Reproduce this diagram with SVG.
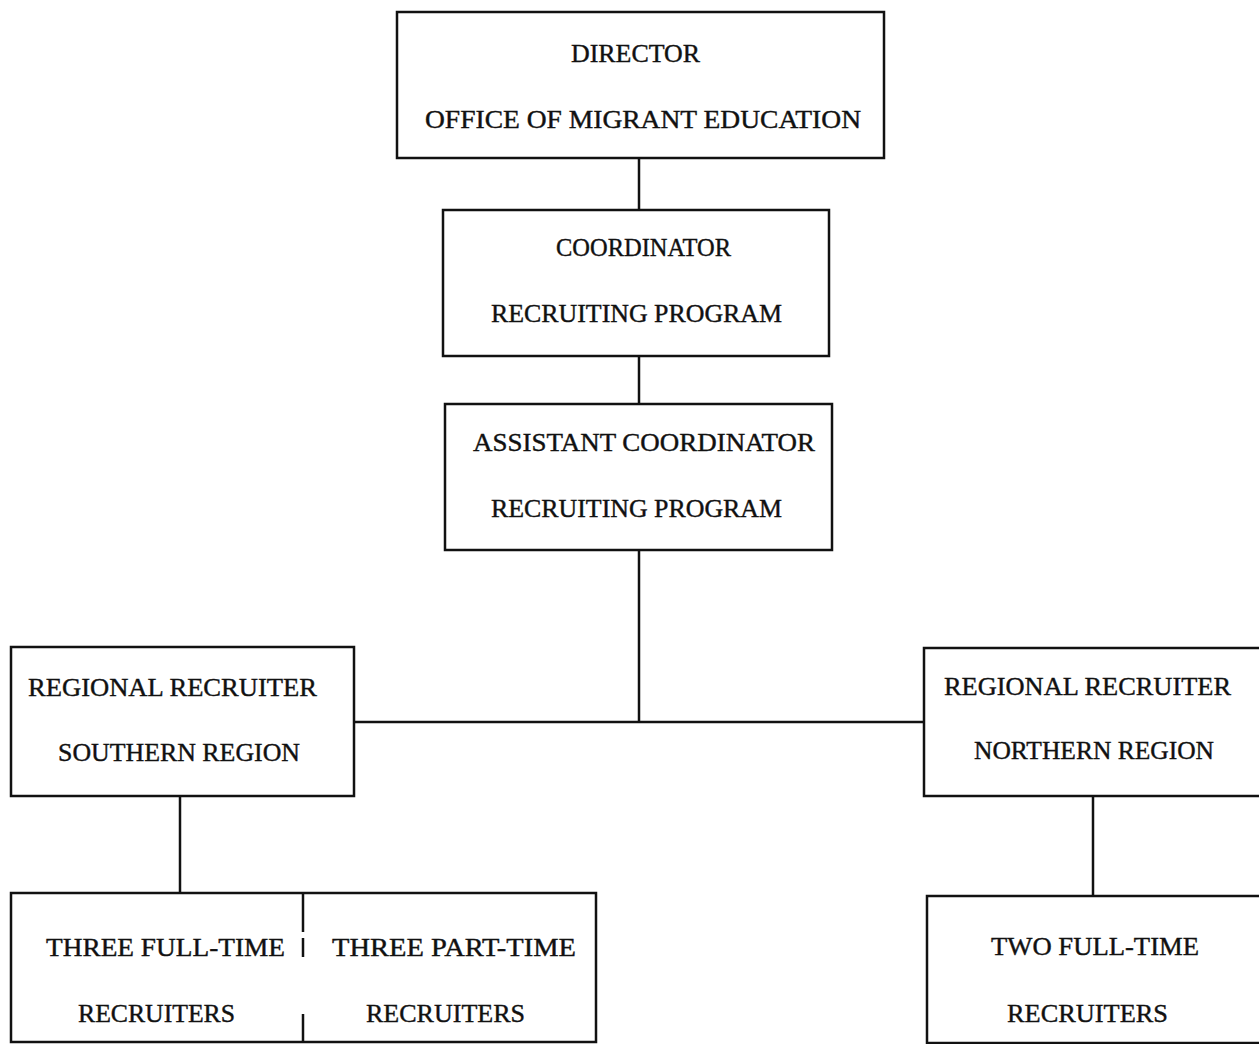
<svg xmlns="http://www.w3.org/2000/svg" width="1259" height="1044" viewBox="0 0 1259 1044">
<style>
.box{fill:#fff;stroke:#111;stroke-width:2.5}
.ln{stroke:#111;stroke-width:2.5;fill:none}
text{font-family:"Liberation Serif","Times New Roman",serif;font-size:26px;fill:#111;stroke:#111;stroke-width:0.4}
</style>
<rect width="1259" height="1044" fill="#fff"/>
<g id="connectors">
<line class="ln" x1="639" y1="158" x2="639" y2="210"/>
<line class="ln" x1="639" y1="356" x2="639" y2="404"/>
<line class="ln" x1="639" y1="550" x2="639" y2="722"/>
<line class="ln" x1="354" y1="722" x2="924" y2="722"/>
<line class="ln" x1="180" y1="796" x2="180" y2="893"/>
<line class="ln" x1="1093" y1="796" x2="1093" y2="896"/>
</g>
<g id="director">
<rect class="box" x="397" y="12" width="487" height="146"/>
<text x="571" y="62" textLength="129" lengthAdjust="spacingAndGlyphs">DIRECTOR</text>
<text x="425" y="128" textLength="436" lengthAdjust="spacingAndGlyphs">OFFICE OF MIGRANT EDUCATION</text>
</g>
<g id="coordinator">
<rect class="box" x="443" y="210" width="386" height="146"/>
<text x="556" y="256" textLength="175" lengthAdjust="spacingAndGlyphs">COORDINATOR</text>
<text x="491" y="322" textLength="291" lengthAdjust="spacingAndGlyphs">RECRUITING PROGRAM</text>
</g>
<g id="assistant">
<rect class="box" x="445" y="404" width="387" height="146"/>
<text x="473" y="451" textLength="342" lengthAdjust="spacingAndGlyphs">ASSISTANT COORDINATOR</text>
<text x="491" y="517" textLength="291" lengthAdjust="spacingAndGlyphs">RECRUITING PROGRAM</text>
</g>
<g id="southern">
<rect class="box" x="11" y="647" width="343" height="149"/>
<text x="28" y="696" textLength="289" lengthAdjust="spacingAndGlyphs">REGIONAL RECRUITER</text>
<text x="58" y="761" textLength="242" lengthAdjust="spacingAndGlyphs">SOUTHERN REGION</text>
</g>
<g id="northern">
<rect class="box" x="924" y="648" width="345" height="148"/>
<text x="944" y="695" textLength="287" lengthAdjust="spacingAndGlyphs">REGIONAL RECRUITER</text>
<text x="974" y="759" textLength="240" lengthAdjust="spacingAndGlyphs">NORTHERN REGION</text>
</g>
<g id="southern-recruiters">
<rect class="box" x="11" y="893" width="585" height="149"/>
<line class="ln" x1="303" y1="893" x2="303" y2="932"/>
<line class="ln" x1="303" y1="938" x2="303" y2="957"/>
<line class="ln" x1="303" y1="1014" x2="303" y2="1042"/>
<text x="46" y="956" textLength="239" lengthAdjust="spacingAndGlyphs">THREE FULL-TIME</text>
<text x="78" y="1022" textLength="157" lengthAdjust="spacingAndGlyphs">RECRUITERS</text>
<text x="332" y="956" textLength="244" lengthAdjust="spacingAndGlyphs">THREE PART-TIME</text>
<text x="366" y="1022" textLength="159" lengthAdjust="spacingAndGlyphs">RECRUITERS</text>
</g>
<g id="northern-recruiters">
<rect class="box" x="927" y="896" width="345" height="147"/>
<text x="991" y="955" textLength="208" lengthAdjust="spacingAndGlyphs">TWO FULL-TIME</text>
<text x="1007" y="1022" textLength="161" lengthAdjust="spacingAndGlyphs">RECRUITERS</text>
</g>
</svg>
